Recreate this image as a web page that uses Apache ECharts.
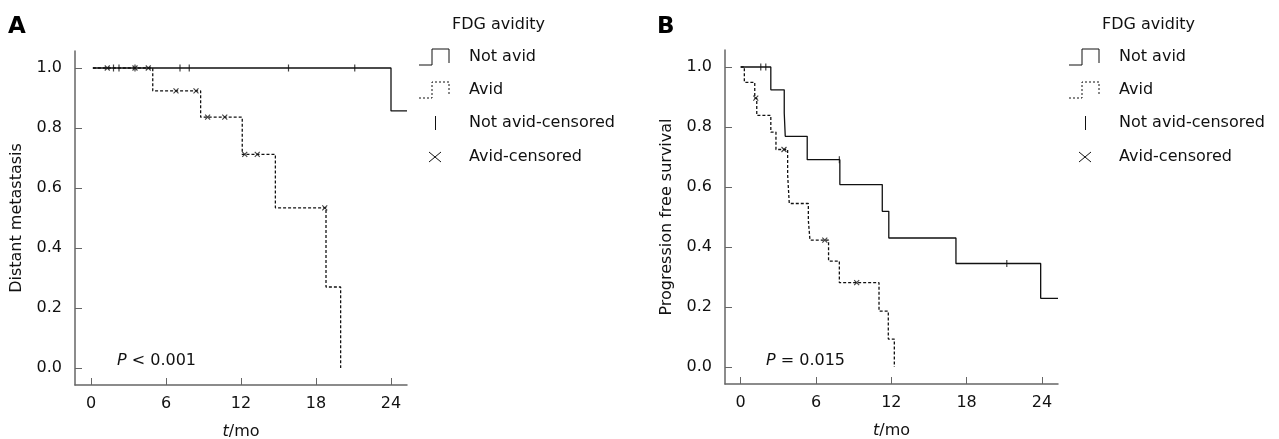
<!DOCTYPE html>
<html>
<head>
<meta charset="utf-8">
<script src="https://cdn.jsdelivr.net/npm/echarts@6/dist/echarts.min.js"></script>
<style>
html, body {margin: 0; padding: 0; background: #fff;}
#chart {width: 1279px; height: 439px;}
</style>
</head>
<body>
<div id="chart"></div>
<script>
// panel A: distant metastasis
var aNotAvidTimes = [0.15, 24.0, 25.28];
var aNotAvidSurv = [1.0, 0.857, 0.857];
var aAvidTimes = [0.15, 4.94, 8.77, 12.1, 14.75, 18.8, 19.97];
var aAvidSurv = [1.0, 0.924, 0.836, 0.712, 0.534, 0.27, 0.0];
var aNotAvidCensT = [1.8, 2.24, 3.52, 7.12, 7.86, 15.8, 21.1];
var aNotAvidCensS = [1.0, 1.0, 1.0, 1.0, 1.0, 1.0, 1.0];
var aAvidCensT = [1.3, 3.52, 4.58, 6.8, 8.4, 9.33, 10.7, 12.3, 13.3, 18.7];
var aAvidCensS = [1.0, 1.0, 1.0, 0.924, 0.924, 0.836, 0.836, 0.712, 0.712, 0.534];

// panel B: progression free survival
var bNotAvidTimes = [0, 2.4, 3.47, 3.55, 5.3, 7.9, 11.28, 11.8, 17.15, 23.9, 25.28];
var bNotAvidSurv = [1.0, 0.924, 0.847, 0.769, 0.691, 0.608, 0.519, 0.43, 0.345, 0.229, 0.229];
var bAvidTimes = [0, 0.29, 1.12, 1.28, 2.4, 2.81, 3.74, 3.87, 5.39, 5.52, 7.0, 7.86, 11.02, 11.76, 12.24];
var bAvidSurv = [1.0, 0.949, 0.896, 0.839, 0.783, 0.725, 0.641, 0.545, 0.489, 0.423, 0.353, 0.281, 0.186, 0.093, 0.0];
var bNotAvidCensT = [1.6, 2.0, 7.86, 21.2];
var bNotAvidCensS = [1.0, 1.0, 0.691, 0.345];
var bAvidCensT = [1.2, 3.45, 6.7, 9.24];
var bAvidCensS = [0.896, 0.725, 0.423, 0.281];

var xTicks = [0, 6, 12, 18, 24];
var yTicks = [0, 0.2, 0.4, 0.6, 0.8, 1.0];
var yNames = ['Distant metastasis', 'Progression free survival'];
var pTexts = ['< 0.001', '= 0.015'];
var panelLabels = ['A', 'B'];
var legendTitle = 'FDG avidity';
var legendLabels = ['Not avid', 'Avid', 'Not avid-censored', 'Avid-censored'];

var FONT = 'DejaVu Sans';
var INK = '#111';
var AXIS = '#666';

function pairs(ts, ss) {
    var out = [];
    for (var i = 0; i < ts.length; i++) out.push([ts[i], ss[i]]);
    return out;
}

var myChart = echarts.init(document.getElementById('chart'));

var grids = [
    {left: 75, top: 51, width: 332, height: 334, outerBoundsMode: 'none', containLabel: false},
    {left: 725, top: 50, width: 333, height: 334, outerBoundsMode: 'none', containLabel: false}
];
var xMins = [-1.28, -1.25];

var xAxes = [], yAxes = [], series = [], graphic = [];
for (var p = 0; p < 2; p++) {
    xAxes.push({
        type: 'value', gridIndex: p, min: xMins[p], max: 25.28,
        name: '{it|t}/mo', nameLocation: 'middle', nameGap: 39,
        nameTextStyle: {fontFamily: FONT, fontSize: 16, color: INK,
            rich: {it: {fontStyle: 'italic', fontFamily: FONT, fontSize: 16, color: INK}}},
        axisLine: {onZero: false, lineStyle: {color: AXIS, width: 1.5}},
        axisTick: {inside: true, length: 7, lineStyle: {color: AXIS}, customValues: xTicks},
        axisLabel: {customValues: xTicks, fontFamily: FONT, fontSize: 16, color: INK, margin: 11},
        splitLine: {show: false}
    });
    yAxes.push({
        type: 'value', gridIndex: p, min: -0.0567, max: 1.0567,
        name: yNames[p], nameLocation: 'middle', nameGap: 50,
        nameTextStyle: {fontFamily: FONT, fontSize: 16, color: INK},
        axisLine: {show: true, onZero: false, lineStyle: {color: AXIS, width: 1.5}},
        axisTick: {show: true, inside: true, length: 7, lineStyle: {color: AXIS}, customValues: yTicks},
        axisLabel: {customValues: yTicks, fontFamily: FONT, fontSize: 16, color: INK, margin: 13,
            formatter: function (v) { return v.toFixed(1); }},
        splitLine: {show: false}
    });
}

var lines = [
    [aNotAvidTimes, aNotAvidSurv, 0, 'solid'],
    [aAvidTimes, aAvidSurv, 0, [3, 2]],
    [bNotAvidTimes, bNotAvidSurv, 1, 'solid'],
    [bAvidTimes, bAvidSurv, 1, [3, 2]]
];
lines.forEach(function (l) {
    series.push({
        type: 'line', step: 'end', xAxisIndex: l[2], yAxisIndex: l[2],
        data: pairs(l[0], l[1]), symbol: 'none', silent: true,
        lineStyle: {color: INK, width: 1.3, type: l[3]}
    });
});

var cens = [
    [aNotAvidCensT, aNotAvidCensS, 0, 'tick'],
    [aAvidCensT, aAvidCensS, 0, 'x'],
    [bNotAvidCensT, bNotAvidCensS, 1, 'tick'],
    [bAvidCensT, bAvidCensS, 1, 'x']
];
cens.forEach(function (c) {
    var isTick = c[3] === 'tick';
    series.push({
        type: 'scatter', xAxisIndex: c[2], yAxisIndex: c[2], z: 5,
        data: pairs(c[0], c[1]),
        symbol: isTick ? 'rect' : 'path://M0,0L10,10M10,0L0,10',
        symbolSize: isTick ? [1.2, 7] : 5,
        itemStyle: isTick ? {color: INK} : {color: 'none', borderColor: INK, borderWidth: 1.1}
    });
});

// panel letters, p values and legends
var offs = [0, 650];
var letterX = [8, 657];
var pX = [117, 766];
for (var q = 0; q < 2; q++) {
    var o = offs[q];
    graphic.push({type: 'text', x: letterX[q], y: 27, style: {text: panelLabels[q], fontFamily: FONT,
        fontSize: 23, fontWeight: 'bold', fill: '#000', verticalAlign: 'middle'}});
    graphic.push({type: 'text', x: pX[q], y: 361, style: {text: '{it|P} ' + pTexts[q], fontFamily: FONT,
        fontSize: 16, fill: INK, verticalAlign: 'middle',
        rich: {it: {fontStyle: 'italic', fontFamily: FONT, fontSize: 16, fill: INK}}}});
    graphic.push({type: 'text', x: 452 + o, y: 25, style: {text: legendTitle, fontFamily: FONT,
        fontSize: 16, fill: INK, verticalAlign: 'middle'}});
    var rowY = [57, 90, 123, 157];
    for (var r = 0; r < 4; r++) {
        graphic.push({type: 'text', x: 469 + o, y: rowY[r], style: {text: legendLabels[r], fontFamily: FONT,
            fontSize: 16, fill: INK, verticalAlign: 'middle'}});
    }
    [0, 1].forEach(function (r) {
        var y0 = rowY[r] - 8;
        graphic.push({type: 'polyline', shape: {points: [[419 + o, y0 + 16], [432 + o, y0 + 16], [432 + o, y0],
            [449 + o, y0], [449 + o, y0 + 14]]},
            style: {stroke: INK, fill: null, lineWidth: 1, lineDash: r === 1 ? [2, 2] : null}});
    });
    graphic.push({type: 'line', shape: {x1: 435.5 + o, y1: 116, x2: 435.5 + o, y2: 130}, style: {stroke: INK, lineWidth: 1}});
    graphic.push({type: 'line', shape: {x1: 429 + o, y1: 152, x2: 441 + o, y2: 162}, style: {stroke: INK, lineWidth: 1}});
    graphic.push({type: 'line', shape: {x1: 441 + o, y1: 152, x2: 429 + o, y2: 162}, style: {stroke: INK, lineWidth: 1}});
}

myChart.setOption({
    animation: false,
    grid: grids,
    xAxis: xAxes,
    yAxis: yAxes,
    series: series,
    graphic: graphic
});
</script>
</body>
</html>
